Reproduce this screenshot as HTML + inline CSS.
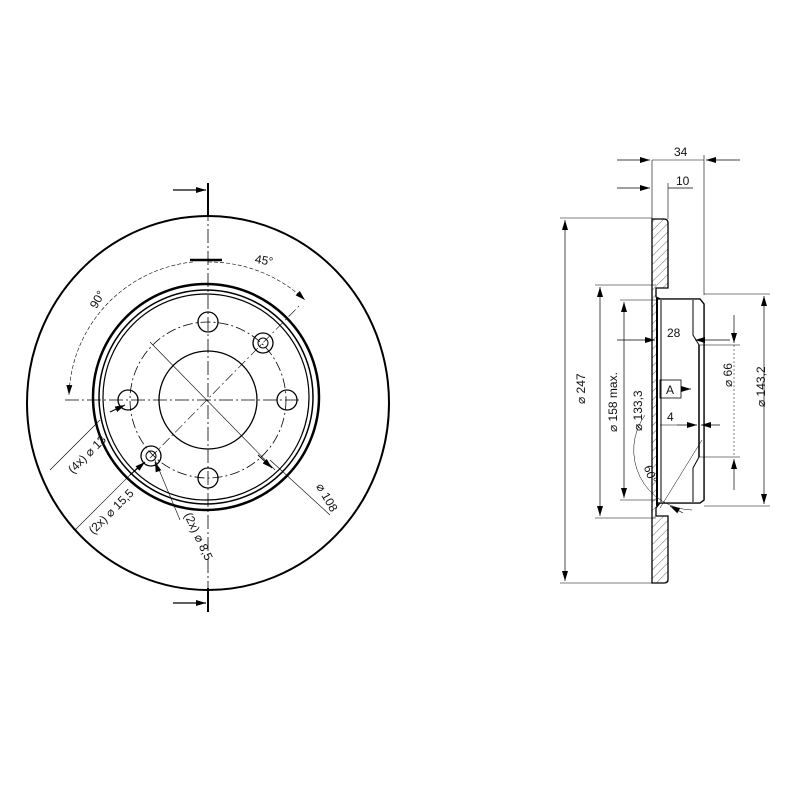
<!DOCTYPE html>
<html><head><style>body{margin:0;background:#fff}svg{display:block}text{font-family:"Liberation Sans",sans-serif;fill:#111}</style></head><body>
<svg width="800" height="800" viewBox="0 0 800 800" xmlns="http://www.w3.org/2000/svg">
<defs>
<marker id="a" viewBox="0 0 10 6" refX="10" refY="3" markerWidth="10" markerHeight="6" orient="auto-start-reverse" markerUnits="userSpaceOnUse"><path d="M0 0L10 3L0 6z" fill="#000"/></marker>
<pattern id="h" width="6" height="6" patternUnits="userSpaceOnUse" patternTransform="rotate(45)"><line x1="0" y1="0" x2="0" y2="6" stroke="#666" stroke-width="1"/></pattern>
</defs>
<g fill="none" stroke="#000">
<ellipse cx="208" cy="403" rx="181" ry="187" stroke-width="2"/>
<circle cx="206" cy="397" r="113" stroke-width="2.5"/>
<circle cx="206" cy="397" r="107" stroke-width="1.5"/>
<circle cx="206" cy="397" r="103" stroke-width="1.2"/>
<circle cx="208" cy="400" r="78" stroke-width="0.8" stroke-dasharray="10 3 2 3"/>
<circle cx="208" cy="400" r="49" stroke-width="1.3"/>
<line x1="208" y1="185" x2="208" y2="610" stroke-width="0.8" stroke-dasharray="14 3 2 3"/>
<line x1="65" y1="400" x2="300" y2="400" stroke-width="0.8" stroke-dasharray="14 3 2 3"/>
<line x1="150" y1="342" x2="275" y2="470" stroke-width="0.6"/>
<line x1="150" y1="458" x2="300" y2="305" stroke-width="0.6" stroke-dasharray="10 3 2 3"/>
<line x1="208" y1="183" x2="208" y2="215" stroke-width="2"/>
<line x1="173" y1="190" x2="206" y2="190" stroke-width="1.2" marker-end="url(#a)"/>
<line x1="208" y1="588" x2="208" y2="612" stroke-width="2"/>
<line x1="173" y1="603" x2="206" y2="603" stroke-width="1.2" marker-end="url(#a)"/>
<circle cx="208" cy="322" r="10" stroke-width="1.3"/>
<circle cx="208" cy="478" r="10" stroke-width="1.3"/>
<circle cx="128" cy="400" r="10" stroke-width="1.3"/>
<circle cx="287" cy="400" r="10" stroke-width="1.3"/>
<circle cx="263" cy="343" r="10" stroke-width="1.3"/><circle cx="263" cy="343" r="5" stroke-width="1"/>
<circle cx="151" cy="456" r="10" stroke-width="1.3"/><circle cx="151" cy="456" r="5" stroke-width="1"/>
<path d="M208 262 A140 140 0 0 1 305 300" stroke-width="0.6" stroke-dasharray="4 2" marker-end="url(#a)"/>
<path d="M193 262 A138 138 0 0 0 69 395" stroke-width="0.6" stroke-dasharray="4 2" marker-end="url(#a)"/>
<line x1="190" y1="260" x2="222" y2="260" stroke-width="2.5"/>
<line x1="50" y1="470" x2="100" y2="420" stroke-width="0.6"/><line x1="110" y1="412" x2="125" y2="405" stroke-width="1" marker-end="url(#a)"/>
<line x1="75" y1="530" x2="140" y2="465" stroke-width="0.6"/><line x1="130" y1="475" x2="145" y2="462" stroke-width="1" marker-end="url(#a)"/>
<line x1="180" y1="520" x2="155" y2="460" stroke-width="0.6"/><line x1="158" y1="470" x2="155" y2="462" stroke-width="1" marker-end="url(#a)"/>
<line x1="330" y1="515" x2="270" y2="460" stroke-width="0.6"/><line x1="258" y1="455" x2="272" y2="468" stroke-width="1" marker-end="url(#a)"/>
<path d="M652 219 H664 Q668 219 668 223 V288 H656 V297 L660 299 H700 L704 304 V500 L700 503 H660 L656 508 V516 H668 V580 Q668 583 664 583 H652 Z" fill="url(#h)" stroke-width="1.3"/>
<path d="M657 299 H700 L704 304 V500 L700 503 H657 Z" fill="#fff" stroke-width="1.3"/>
<line x1="657" y1="298" x2="657" y2="506" stroke-width="2"/>
<line x1="661" y1="300" x2="661" y2="502" stroke-width="1"/>
<path d="M693 300 V335 L699 345 V457 L693 468 V502" stroke-width="1"/>
<line x1="699" y1="345" x2="699" y2="457" stroke-width="1.5"/>
<line x1="652" y1="160" x2="652" y2="219" stroke-width="0.6"/>
<line x1="704" y1="155" x2="704" y2="295" stroke-width="0.6"/>
<line x1="668" y1="183" x2="668" y2="219" stroke-width="0.6"/>
<line x1="617" y1="160" x2="650" y2="160" stroke-width="0.7" marker-end="url(#a)"/>
<line x1="740" y1="160" x2="706" y2="160" stroke-width="0.7" marker-end="url(#a)"/>
<line x1="652" y1="160" x2="704" y2="160" stroke-width="0.6"/>
<line x1="617" y1="188" x2="650" y2="188" stroke-width="0.7" marker-end="url(#a)"/>
<line x1="668" y1="188" x2="693" y2="188" stroke-width="0.7"/>
<line x1="560" y1="218" x2="652" y2="218" stroke-width="0.6"/>
<line x1="560" y1="583" x2="652" y2="583" stroke-width="0.6"/>
<line x1="565" y1="220" x2="565" y2="581" stroke-width="0.7" marker-start="url(#a)" marker-end="url(#a)"/>
<line x1="595" y1="285" x2="656" y2="285" stroke-width="0.6"/>
<line x1="595" y1="518" x2="656" y2="518" stroke-width="0.6"/>
<line x1="600" y1="287" x2="600" y2="516" stroke-width="0.7" marker-start="url(#a)" marker-end="url(#a)"/>
<line x1="620" y1="300" x2="657" y2="300" stroke-width="0.6"/>
<line x1="620" y1="500" x2="657" y2="500" stroke-width="0.6"/>
<line x1="624" y1="302" x2="624" y2="498" stroke-width="0.7" marker-start="url(#a)" marker-end="url(#a)"/>
<line x1="704" y1="294" x2="770" y2="294" stroke-width="0.6"/>
<line x1="704" y1="506" x2="770" y2="506" stroke-width="0.6"/>
<line x1="764" y1="296" x2="764" y2="504" stroke-width="0.7" marker-start="url(#a)" marker-end="url(#a)"/>
<line x1="699" y1="345" x2="740" y2="345" stroke-width="0.6"/>
<line x1="699" y1="457" x2="740" y2="457" stroke-width="0.6"/>
<line x1="734" y1="315" x2="734" y2="343" stroke-width="0.7" marker-end="url(#a)"/>
<line x1="734" y1="490" x2="734" y2="459" stroke-width="0.7" marker-end="url(#a)"/>
<line x1="734" y1="345" x2="734" y2="457" stroke-width="0.5" stroke-dasharray="2 2"/>
<line x1="617" y1="340" x2="655" y2="340" stroke-width="0.7" marker-end="url(#a)"/>
<line x1="730" y1="340" x2="695" y2="340" stroke-width="0.7" marker-end="url(#a)"/>
<line x1="660" y1="425" x2="677" y2="425" stroke-width="0.6"/>
<line x1="677" y1="425" x2="697" y2="425" stroke-width="0.7" marker-end="url(#a)"/>
<line x1="720" y1="425" x2="701" y2="425" stroke-width="0.7" marker-end="url(#a)"/>
<rect x="660" y="380" width="21" height="18" stroke-width="0.8"/>
<line x1="681" y1="389" x2="691" y2="389" stroke-width="0.7" marker-end="url(#a)"/>
<path d="M645 415 A60 60 0 0 0 692 510" stroke-width="0.5"/>
<line x1="683" y1="513" x2="670" y2="506" stroke-width="0.7" marker-end="url(#a)"/>
<line x1="660" y1="508" x2="702" y2="440" stroke-width="0.5"/>
</g>
<g font-size="12">
<text x="255" y="264" transform="rotate(10 262 260)">45°</text>
<text x="88" y="305" transform="rotate(-60 96 300)">90°</text>
<text x="55" y="465" transform="rotate(-45 75 448)">(4x) ⌀ 13</text>
<text x="72" y="523" transform="rotate(-45 97 503)">(2x) ⌀ 15,5</text>
<text x="168" y="520" transform="rotate(65 180 530)">(2x) ⌀ 8,5</text>
<text x="305" y="495" transform="rotate(60 318 500)">⌀ 108</text>
<text x="674" y="156">34</text>
<text x="676" y="185">10</text>
<text x="667" y="337">28</text>
<text x="667" y="421">4</text>
<text x="666" y="394">A</text>
<text x="556" y="425" transform="rotate(-90 560 400)">⌀ 247</text>
<text x="560" y="425" transform="rotate(-90 592 400)">⌀ 158 max.</text>
<text x="586" y="425" transform="rotate(-90 617 400)">⌀ 133,3</text>
<text x="730" y="395" transform="rotate(-90 727 390)">⌀ 66</text>
<text x="738" y="400" transform="rotate(-90 755 390)">⌀ 143,2</text>
<text x="645" y="475" transform="rotate(70 650 470)">60°</text>
</g>
</svg>
</body></html>
